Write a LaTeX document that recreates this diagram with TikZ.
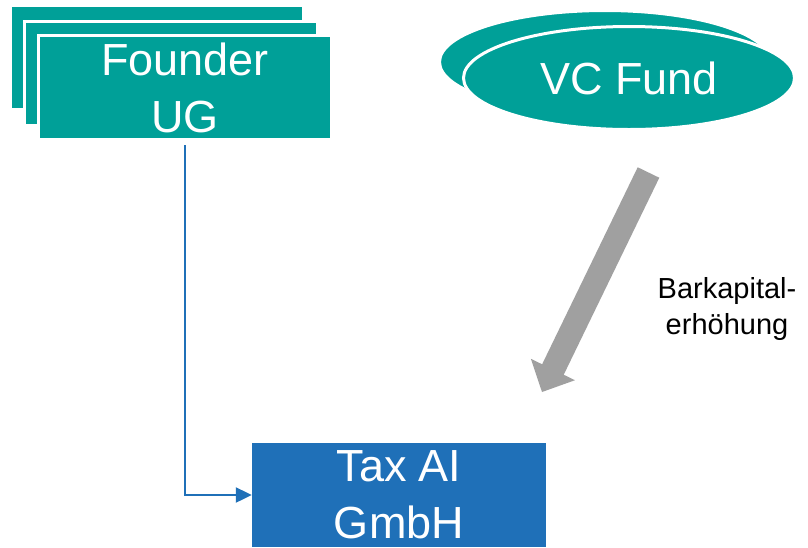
\documentclass[tikz,border=0pt]{standalone}
\usepackage{fontspec}
\setmainfont{Liberation Sans}
\usetikzlibrary{arrows.meta,calc,shapes.geometric}
\definecolor{tealfill}{RGB}{0,160,152}
\definecolor{bluefill}{RGB}{31,112,184}
\definecolor{grayarrow}{RGB}{160,160,160}
\begin{document}
\begin{tikzpicture}[x=1pt,y=-1pt,
  stackrect/.style={rectangle, fill=tealfill, draw=white, line width=3pt,
    minimum width=293pt, minimum height=104pt, inner sep=0pt},
  stackell/.style={ellipse, fill=tealfill, draw=white, line width=3pt,
    minimum width=331pt, minimum height=103pt, inner sep=0pt},
  bigtext/.style={text=white, font=\fontsize{45}{57}\selectfont, align=center},
  labeltext/.style={text=black, font=\fontsize{29}{36}\selectfont, align=center},
  connector/.style={bluefill, line width=2.2pt, -{Triangle[length=16pt,width=15pt]}}
]
\useasboundingbox (0,0) rectangle (808,547);
\fill[white] (0,0) rectangle (808,547);

% Founder UG stack
\node[stackrect] (founderback) at (156.5,57.5) {};
\node[stackrect] (foundermid) at (170.5,73) {};
\node[stackrect, bigtext] (founder) at (185,87.5) {Founder\\UG};

% VC Fund stack
\node[stackell] (vcback) at (605,62) {};
\node[stackell, bigtext] (vc) at (629,78) {VC Fund};

% Tax AI GmbH
\node[rectangle, fill=bluefill, minimum width=294pt, minimum height=104pt,
  inner sep=0pt, bigtext] (taxai) at (399,495) {Tax AI\\GmbH};

% connector
\draw[connector, shorten <=4pt] (founder.south) |- (taxai.west);

% gray block arrow
\coordinate (arrtail) at (648.5,172.5);
\coordinate (arrtip) at (542,392);
\coordinate (arrhead) at ($(arrtip)!25pt!(arrtail)$);
\fill[grayarrow]
  ($(arrtail)!12pt!90:(arrtip)$) -- ($(arrhead)!12pt!90:(arrtip)$)
  -- ($(arrhead)!24.5pt!90:(arrtip)$) -- (arrtip)
  -- ($(arrhead)!24.5pt!-90:(arrtip)$) -- ($(arrhead)!12pt!-90:(arrtip)$)
  -- ($(arrtail)!12pt!-90:(arrtip)$) -- cycle;

\node[labeltext] (barlabel) at (727,309) {Barkapital-\\erhöhung};
\end{tikzpicture}
\end{document}
